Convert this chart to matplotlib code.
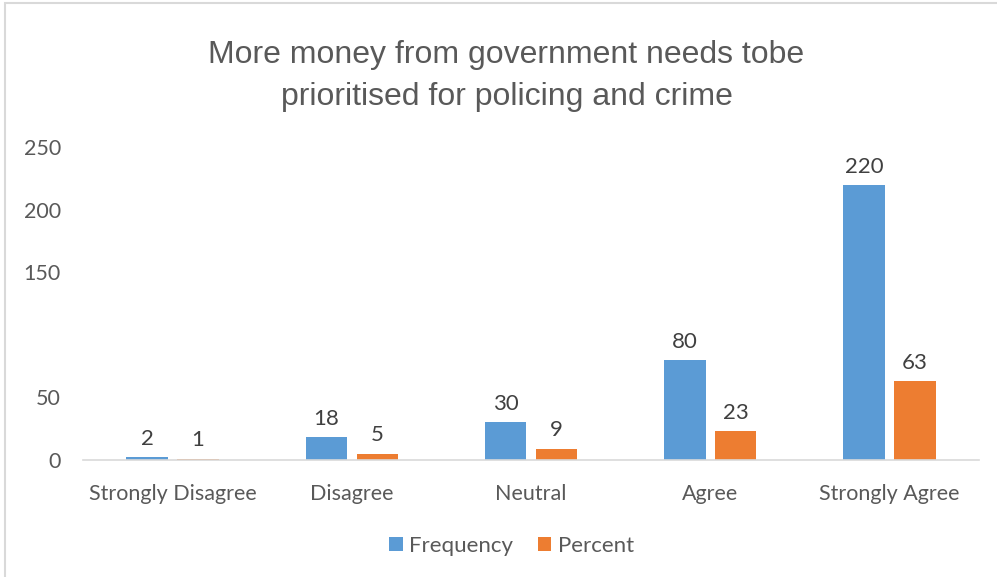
import matplotlib.pyplot as plt
import numpy as np
from matplotlib.patches import Rectangle

# === Data ===
categories = ["Strongly Disagree", "Disagree", "Neutral", "Agree", "Strongly Agree"]
frequency = [2, 18, 30, 80, 220]
percent = [1, 5, 9, 23, 63]
y_ticks = [0, 50, 150, 200, 250]

BLUE = "#5B9BD5"
ORANGE = "#ED7D31"
TEXT = "#595959"

plt.rcParams["font.family"] = ["Lato", "DejaVu Sans"]

fig = plt.figure(figsize=(9.97, 5.77), dpi=100)
ax = fig.add_axes([0.0833, 0.2028, 0.8987, 0.5416])

x = np.arange(len(categories))
w = 0.232
off = 0.142
b1 = ax.bar(x - off, frequency, w, color=BLUE, label="Frequency")
b2 = ax.bar(x + off, percent, w, color=ORANGE, label="Percent")

for bars, vals in ((b1, frequency), (b2, percent)):
    for rect, v in zip(bars, vals):
        ax.annotate(str(v), (rect.get_x() + rect.get_width() / 2, rect.get_height()),
                    xytext=(0, 6), textcoords="offset points", ha="center", va="bottom",
                    fontsize=16, color="#404040")

ax.set_xlim(-0.5, len(categories) - 0.5)
ax.set_ylim(0, 250)
ax.set_yticks(y_ticks)
ax.set_xticks(x)
ax.set_xticklabels(categories)
ax.tick_params(axis="both", length=0, labelsize=15.5, colors=TEXT)
ax.tick_params(axis="y", pad=16)
ax.tick_params(axis="x", pad=17)
for s in ("top", "right", "left"):
    ax.spines[s].set_visible(False)
ax.spines["bottom"].set_color("#D9D9D9")
ax.spines["bottom"].set_linewidth(1.2)

fig.suptitle("More money from government needs tobe\nprioritised for policing and crime",
             x=0.508, y=0.93, fontsize=23, color=TEXT, family="Liberation Sans",
             linespacing=1.5)

fig.legend(loc="center", bbox_to_anchor=(0.513, 0.054), ncol=2, frameon=False,
           fontsize=16, labelcolor=TEXT, handlelength=0.6, handleheight=0.6,
           handletextpad=0.3, columnspacing=1.1)

# chart border
fig.patches.append(Rectangle((0.005, -0.01), 1.0, 1.005, transform=fig.transFigure,
                             fill=False, edgecolor="#D9D9D9", linewidth=1.5))

fig.savefig("out.png", dpi=100)
